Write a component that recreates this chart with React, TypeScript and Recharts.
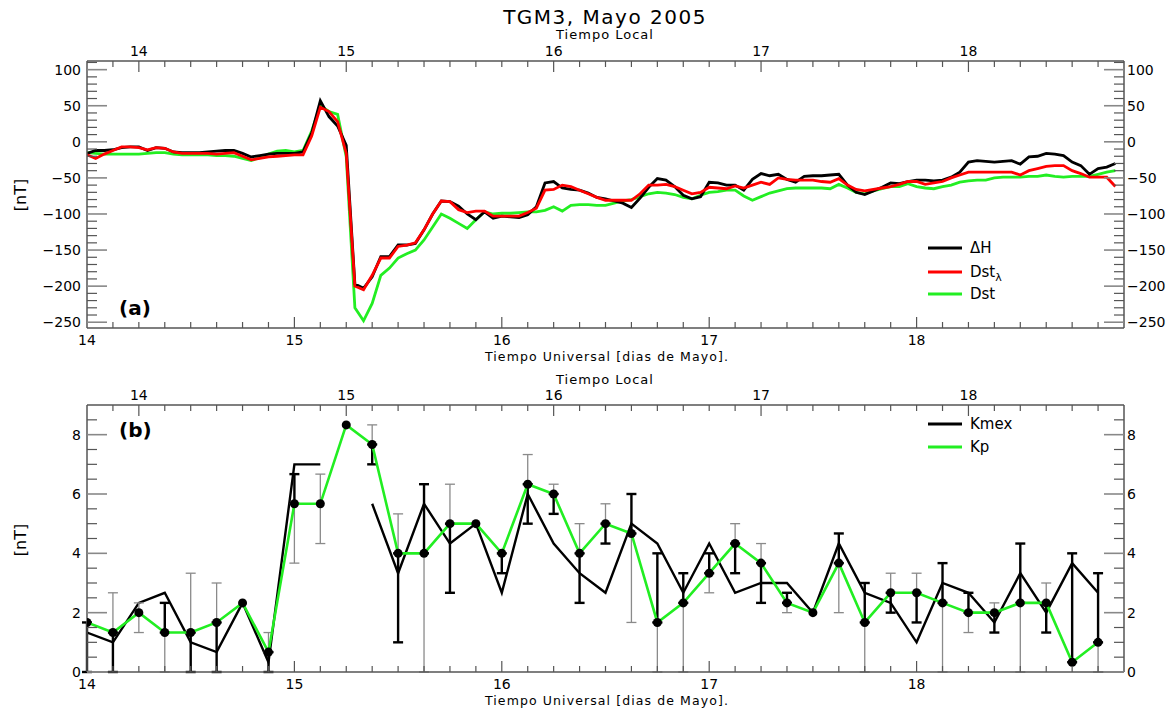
import React from 'react';
import { ComposedChart, Line, XAxis, YAxis, ErrorBar } from 'recharts';

const FONT = '"DejaVu Sans", Verdana, sans-serif';
const AXIS = '#555';
const GREEN = '#22ee22';

// hourly values, starting 14 May 00 UT
const HOUR_START = 14;
const HOUR_STEP = 1 / 24;

const deltaH = [
  -16, -12, -12, -11, -8, -7, -7, -12, -8, -9, -14, -15, -15, -15, -14, -13, -12, -12, -16, -21, -19, -17, -16, -16,
  -16, -14, 12, 57, 35, 22, -5, -197, -203, -187, -159, -159, -143, -143, -141, -122, -100, -82, -83, -89, -100, -108, -97, -106,
  -103, -104, -105, -101, -90, -57, -55, -64, -66, -67, -71, -77, -79, -82, -85, -91, -78, -63, -51, -53, -62, -74, -79, -76,
  -56, -57, -60, -60, -67, -52, -44, -47, -45, -52, -56, -48, -47, -47, -46, -45, -60, -70, -73, -68, -63, -57, -58, -55,
  -53, -53, -54, -53, -49, -42, -28, -26, -27, -28, -27, -26, -31, -21, -20, -16, -17, -19, -28, -33, -45, -37, -35, -30,
];

const dstLambda = [
  -18, -23, -17, -12, -7, -7, -8, -11, -8, -9, -14, -16, -16, -16, -16, -17, -16, -15, -20, -25, -23, -21, -20, -19,
  -18, -18, 8, 48, 42, 28, -16, -200, -205, -185, -161, -161, -145, -143, -140, -122, -100, -82, -83, -94, -98, -96, -96, -103,
  -103, -103, -103, -98, -92, -67, -66, -60, -62, -67, -72, -77, -81, -81, -81, -81, -72, -60, -60, -59, -62, -67, -72, -70,
  -63, -64, -65, -61, -64, -60, -56, -59, -50, -52, -53, -53, -53, -55, -56, -51, -60, -66, -68, -66, -64, -62, -59, -55,
  -55, -59, -57, -55, -50, -46, -42, -42, -42, -42, -42, -42, -46, -40, -37, -34, -33, -33, -40, -44, -49, -49, -49, -62,
];

const dst = [
  -15, -16, -17, -17, -17, -17, -17, -16, -15, -15, -17, -18, -18, -18, -18, -19, -19, -20, -23, -26, -22, -17, -13, -12,
  -14, -12, 15, 50, 42, 38, -21, -230, -248, -224, -185, -175, -161, -155, -150, -136, -118, -100, -106, -113, -120, -108, -97, -100,
  -99, -99, -98, -97, -97, -95, -90, -96, -88, -87, -87, -88, -88, -85, -82, -80, -76, -72, -70, -71, -73, -77, -79, -74,
  -70, -69, -67, -67, -75, -81, -76, -71, -68, -65, -64, -64, -64, -64, -65, -59, -64, -70, -72, -68, -65, -62, -62, -58,
  -62, -64, -65, -62, -60, -56, -54, -53, -53, -50, -49, -49, -49, -48, -48, -46, -48, -49, -48, -48, -48, -45, -42, -40,
];

// 3-hourly indices
const K_START = 14;
const K_STEP = 1 / 8;

const kp = [
  1.67, 1.33, 2.0, 1.33, 1.33, 1.67, 2.33, 0.67, 5.67, 5.67,
  8.33, 7.67, 4.0, 4.0, 5.0, 5.0, 4.0, 6.33, 6.0, 4.0,
  5.0, 4.67, 1.67, 2.33, 3.33, 4.33, 3.67, 2.33, 2.0, 3.67,
  1.67, 2.67, 2.67, 2.33, 2.0, 2.0, 2.33, 2.33, 0.33, 1.0,
];

const kmex = [
  1.33, 1.0, 2.33, 2.67, 1.0, 0.67, 2.33, 0.33, 7.0, 7.0,
  null, 5.67, 3.33, 5.67, 4.33, 5.0, 2.67, 6.0, 4.33, 3.33,
  2.67, 5.0, 4.33, 2.67, 4.33, 2.67, 3.0, 3.0, 2.0, 4.33,
  2.67, 2.33, 1.0, 3.0, 2.67, 1.67, 3.33, 2.0, 3.67, 2.67,
];

// error range [low, high] around Kp: side towards Kmex (black) and the other side (gray)
type Range = [number, number] | null;
const blackRange: Range[] = [
  [0, 1.67], [0, 1.33], null, [1.33, 2.33], [0, 1.33], [0, 1.67], null, [0, 0.67], [5.67, 6.67], null,
  null, [7.0, 7.67], [1.0, 4.0], [4.0, 6.33], [2.67, 5.0], null, [3.33, 4.0], [5.0, 6.33], [5.33, 6.0], [2.33, 4.0],
  [4.33, 5.0], [4.67, 6.0], [1.67, 4.0], [2.33, 3.33], [3.33, 4.0], [3.33, 4.33], [2.33, 3.67], [2.33, 2.67], null, [3.67, 4.67],
  [1.67, 3.0], [2.0, 2.67], [1.67, 2.67], [2.33, 3.67], [2.0, 2.67], [1.33, 2.0], [2.33, 4.33], [1.33, 2.33], [0.33, 4.0], [1.0, 3.33],
];
const grayRange: Range[] = [
  null, [1.33, 2.67], [1.33, 2.33], [0, 1.33], [1.33, 3.33], [1.67, 3.0], null, [0.67, 1.33], [3.67, 5.67], [4.33, 6.67],
  null, [7.67, 8.33], [4.0, 5.33], [0, 4.0], [5.0, 6.33], null, null, [6.33, 7.33], [6.0, 6.33], [4.0, 5.0],
  [5.0, 5.67], [1.67, 4.67], [0, 1.67], [0, 2.33], [2.67, 3.33], [4.33, 5.0], [3.67, 4.33], [2.0, 2.33], null, [2.0, 3.67],
  [0, 1.67], [2.67, 3.33], [2.67, 3.33], [0, 2.33], [1.33, 2.0], [2.0, 2.33], [0, 2.33], [2.33, 3.0], null, [0, 1.0],
];

const dayTicks = [
  14, 14.125, 14.25, 14.375, 14.5, 14.625, 14.75, 14.875,
  15, 15.125, 15.25, 15.375, 15.5, 15.625, 15.75, 15.875,
  16, 16.125, 16.25, 16.375, 16.5, 16.625, 16.75, 16.875,
  17, 17.125, 17.25, 17.375, 17.5, 17.625, 17.75, 17.875,
  18, 18.125, 18.25, 18.375, 18.5, 18.625, 18.75, 18.875, 19,
];
const LT_OFFSET = 0.25; // local time = UT - 6 h

const nTTicks = [
  -250, -240, -230, -220, -210, -200, -190, -180, -170, -160, -150, -140, -130, -120, -110, -100,
  -90, -80, -70, -60, -50, -40, -30, -20, -10, 0, 10, 20, 30, 40, 50, 60, 70, 80, 90, 100, 110,
];
const kTicks = [0, 0.5, 1, 1.5, 2, 2.5, 3, 3.5, 4, 4.5, 5, 5.5, 6, 6.5, 7, 7.5, 8, 8.5];

const topRows = deltaH.map((v, i) => ({
  t: HOUR_START + i * HOUR_STEP,
  dh: v,
  dstl: dstLambda[i],
  dst: dst[i],
}));

const bottomRows = kp.map((v, i) => {
  const b = blackRange[i];
  const g = grayRange[i];
  return {
    t: K_START + i * K_STEP,
    kp: v,
    kmex: kmex[i],
    blackErr: b ? [v - b[0], b[1] - v] : null,
    grayErr: g ? [v - g[0], g[1] - v] : null,
  };
});

const isInt = (v: number) => Math.abs(v - Math.round(v)) < 1e-6;
const fmt = (v: number) => (v < 0 ? '\u2212' + Math.abs(v) : String(v));

function UtTick(props: any) {
  const { x, y, payload } = props;
  const v = payload.value as number;
  const major = isInt(v);
  if (v <= 14 || v >= 19) {
    return (
      <g>
        {v === 14 && (
          <text x={x} y={y + 17} textAnchor="middle" fontSize={14} fontFamily={FONT} fill="#000">14</text>
        )}
      </g>
    );
  }
  return (
    <g>
      <line x1={x} x2={x} y1={y} y2={y - (major ? 11 : 6)} stroke={AXIS} strokeWidth={1.2} />
      {major && (
        <text x={x} y={y + 17} textAnchor="middle" fontSize={14} fontFamily={FONT} fill="#000">
          {Math.round(v)}
        </text>
      )}
    </g>
  );
}

function LtTick(props: any) {
  const { x, y, payload } = props;
  const v = payload.value as number;
  if (v <= 14 || v >= 19) return <g />;
  const major = isInt(v - LT_OFFSET);
  return (
    <g>
      <line x1={x} x2={x} y1={y} y2={y + (major ? 11 : 6)} stroke={AXIS} strokeWidth={1.2} />
      {major && (
        <text x={x} y={y - 5} textAnchor="middle" fontSize={14} fontFamily={FONT} fill="#000">
          {Math.round(v - LT_OFFSET)}
        </text>
      )}
    </g>
  );
}

function makeYTick(side: 'left' | 'right', majorEvery: number) {
  return (props: any) => {
    const { x, y, payload } = props;
    const v = payload.value as number;
    const major = isInt(v / majorEvery);
    const dir = side === 'left' ? 1 : -1;
    return (
      <g>
        <line
          x1={x}
          x2={x + dir * (major ? 20 : 10)}
          y1={y}
          y2={y}
          stroke={major ? '#888' : AXIS}
          strokeWidth={major ? 1.6 : 1.2}
        />
        {major && (
          <text
            x={side === 'left' ? x - 6 : x + 3}
            y={y + 5}
            textAnchor={side === 'left' ? 'end' : 'start'}
            fontSize={14}
            fontFamily={FONT}
            fill="#000"
          >
            {fmt(v)}
          </text>
        )}
      </g>
    );
  };
}

const W = 1174;
const H = 711;
const PLOT_L = 87;
const PLOT_R = 1124;

function axesFor(yDomain: [number, number], yTicks: number[], majorEvery: number) {
  const common = {
    type: 'number' as const,
    domain: [14, 19],
    ticks: dayTicks,
    interval: 0 as const,
    tickSize: 0,
    tickMargin: 0,
    tickLine: false,
    axisLine: { stroke: AXIS, strokeWidth: 1.5 },
    height: 30,
    allowDataOverflow: true,
  };
  const ycommon = {
    type: 'number' as const,
    domain: yDomain,
    ticks: yTicks,
    interval: 0 as const,
    tickSize: 0,
    tickMargin: 0,
    tickLine: false,
    axisLine: { stroke: AXIS, strokeWidth: 1.5 },
    allowDataOverflow: true,
  };
  return [
    <XAxis key="ut" xAxisId="ut" dataKey="t" orientation="bottom" tick={UtTick} {...common} />,
    <XAxis key="lt" xAxisId="lt" dataKey="t" orientation="top" tick={LtTick} {...common} />,
    <YAxis key="l" yAxisId="l" orientation="left" width={60} tick={makeYTick('left', majorEvery)} {...ycommon} />,
    <YAxis key="r" yAxisId="r" orientation="right" width={40} tick={makeYTick('right', majorEvery)} {...ycommon} />,
  ];
}

export default function App() {
  const topPlot = { top: 61, bottom: 328 };
  const botPlot = { top: 405, bottom: 672 };
  const text = { fontFamily: FONT, fill: '#000' };
  return (
    <div style={{ position: 'absolute', left: 0, top: 0, width: W, height: H, background: '#fff' }}>
      <div style={{ position: 'absolute', left: 0, top: 0 }}>
        <ComposedChart
          width={W}
          height={H}
          data={topRows}
          margin={{ top: topPlot.top - 30, bottom: H - topPlot.bottom - 30, left: PLOT_L - 60, right: W - PLOT_R - 40 }}
        >
          {axesFor([-258, 112], nTTicks, 50)}
          <Line xAxisId="ut" yAxisId="l" type="linear" dataKey="dst" stroke={GREEN} strokeWidth={2.8} dot={false} isAnimationActive={false} />
          <Line xAxisId="ut" yAxisId="l" type="linear" dataKey="dh" stroke="#000" strokeWidth={2.8} dot={false} isAnimationActive={false} />
          <Line xAxisId="ut" yAxisId="l" type="linear" dataKey="dstl" stroke="#ff0000" strokeWidth={2.8} dot={false} isAnimationActive={false} />
        </ComposedChart>
      </div>
      <div style={{ position: 'absolute', left: 0, top: 0 }}>
        <ComposedChart
          width={W}
          height={H}
          data={bottomRows}
          margin={{ top: botPlot.top - 30, bottom: H - botPlot.bottom - 30, left: PLOT_L - 60, right: W - PLOT_R - 40 }}
        >
          {axesFor([0, 9], kTicks, 2)}
          <Line xAxisId="ut" yAxisId="l" type="linear" dataKey="kmex" stroke="#000" strokeWidth={2.4} dot={false} connectNulls={false} isAnimationActive={false} />
          <Line
            xAxisId="ut"
            yAxisId="l"
            type="linear"
            dataKey="kp"
            stroke={GREEN}
            strokeWidth={2.6}
            dot={{ r: 4.5, fill: '#000', stroke: 'none' }}
            isAnimationActive={false}
          >
            <ErrorBar dataKey="grayErr" direction="y" width={5} stroke="#8a8a8a" strokeWidth={1.3} isAnimationActive={false} />
            <ErrorBar dataKey="blackErr" direction="y" width={5} stroke="#000" strokeWidth={2.4} isAnimationActive={false} />
          </Line>
        </ComposedChart>
      </div>
      <svg width={W} height={H} style={{ position: 'absolute', left: 0, top: 0, pointerEvents: 'none' }}>
        <text x={605} y={24} textAnchor="middle" fontSize={20} letterSpacing={1.5} {...text}>TGM3, Mayo 2005</text>
        <text x={605} y={39} textAnchor="middle" fontSize={13} letterSpacing={1} {...text}>Tiempo Local</text>
        <text x={607} y={361} textAnchor="middle" fontSize={12.5} letterSpacing={1.1} {...text}>Tiempo Universal [dias de Mayo].</text>
        <text x={605} y={384} textAnchor="middle" fontSize={13} letterSpacing={1} {...text}>Tiempo Local</text>
        <text x={607} y={705} textAnchor="middle" fontSize={12.5} letterSpacing={1.1} {...text}>Tiempo Universal [dias de Mayo].</text>
        <text x={26} y={195} textAnchor="middle" fontSize={16} transform="rotate(-90 26 195)" {...text}>[nT]</text>
        <text x={26} y={540} textAnchor="middle" fontSize={16} transform="rotate(-90 26 540)" {...text}>[nT]</text>
        <text x={119} y={315} fontSize={20} fontWeight="bold" {...text}>(a)</text>
        <text x={119} y={437} fontSize={20} fontWeight="bold" {...text}>(b)</text>

        <line x1={928} x2={962} y1={248} y2={248} stroke="#000" strokeWidth={3} />
        <text x={970} y={253} fontSize={15} {...text}>ΔH</text>
        <line x1={928} x2={962} y1={272} y2={272} stroke="#ff0000" strokeWidth={3} />
        <text x={970} y={277} fontSize={15} {...text}>
          Dst<tspan fontSize={11} dy={4}>λ</tspan>
        </text>
        <line x1={928} x2={962} y1={294} y2={294} stroke={GREEN} strokeWidth={3} />
        <text x={970} y={299} fontSize={15} {...text}>Dst</text>

        <line x1={928} x2={962} y1={424} y2={424} stroke="#000" strokeWidth={3} />
        <text x={970} y={429} fontSize={15} {...text}>Kmex</text>
        <line x1={928} x2={962} y1={447} y2={447} stroke={GREEN} strokeWidth={3} />
        <text x={970} y={452} fontSize={15} {...text}>Kp</text>
      </svg>
    </div>
  );
}
